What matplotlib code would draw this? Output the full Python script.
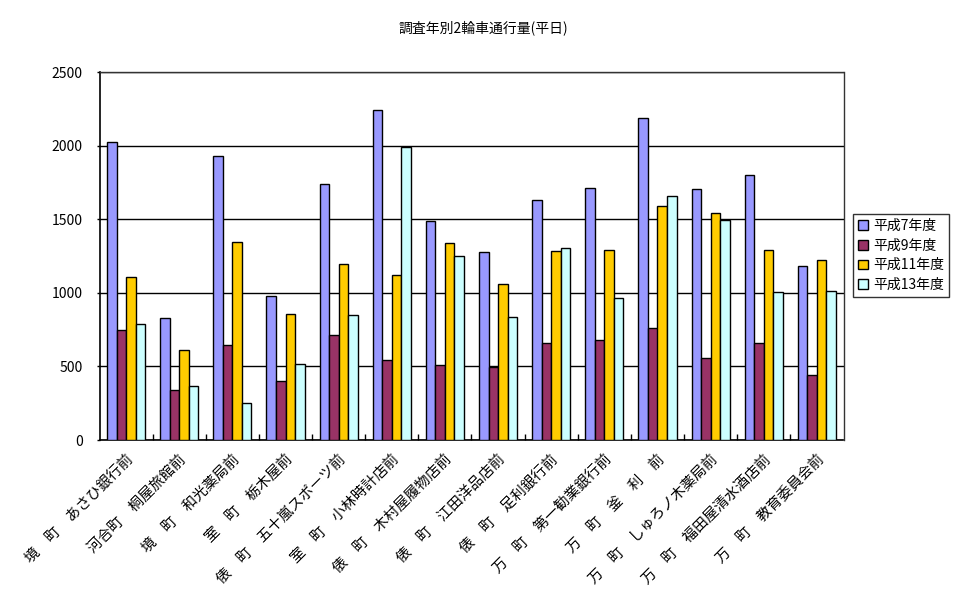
import matplotlib
matplotlib.use("Agg")
import matplotlib.pyplot as plt
import numpy as np

plt.rcParams['font.family'] = ['Noto Sans CJK JP', 'DejaVu Sans']

# survey points (x axis)
locations = [
    "境　町　あさひ銀行前",
    "河合町　桐屋旅館前",
    "境　町　和光薬局前",
    "室　町　栃木屋前",
    "俵　町　五十嵐スポーツ前",
    "室　町　小林時計店前",
    "俵　町　木村屋履物店前",
    "俵　町　江田洋品店前",
    "俵　町　足利銀行前",
    "万　町　第一勧業銀行前",
    "万　町　釜　利　前",
    "万　町　しゅろノ木薬局前",
    "万　町　福田屋清水酒店前",
    "万　町　教育委員会前",
]

series_names = ["平成7年度", "平成9年度", "平成11年度", "平成13年度"]
h7 = [2024, 827, 1929, 977, 1738, 2242, 1487, 1276, 1630, 1711, 2187, 1704, 1800, 1181]
h9 = [746, 338, 644, 399, 712, 542, 510, 496, 657, 678, 759, 555, 657, 442]
h11 = [1106, 610, 1344, 854, 1194, 1120, 1337, 1058, 1283, 1290, 1589, 1541, 1290, 1222]
h13 = [786, 365, 249, 514, 848, 1990, 1249, 834, 1303, 963, 1657, 1494, 1004, 1011]

colors = ['#9999FF', '#993366', '#FFCC00', '#CCFFFF']

fig = plt.figure(figsize=(9.66, 6.02), dpi=100)
ax = fig.add_axes([99.5 / 966, 162 / 602, 744 / 966, 368 / 602])

x = np.arange(len(locations))
w = 0.18
for i, (vals, name) in enumerate(zip([h7, h9, h11, h13], series_names)):
    ax.bar(x + (i - 1.5) * w, vals, width=w, color=colors[i],
           edgecolor='black', linewidth=1.0, label=name, zorder=3)

ax.set_xlim(-0.5, len(locations) - 0.5)
ax.set_ylim(0, 2500)
ax.set_yticks([0, 500, 1000, 1500, 2000, 2500])
ax.yaxis.grid(True, color='black', linewidth=1.0, zorder=0)

# category ticks sit between groups, labels centred on groups
ax.set_xticks(np.arange(1, len(locations)) - 0.5)
ax.set_xticklabels([])
ax.tick_params(axis='x', direction='in', length=4, width=1)
ax.set_xticks(x, minor=True)
ax.set_xticklabels(locations, minor=True, rotation=45, ha='right',
                   rotation_mode='anchor', fontsize=10.5)
ax.tick_params(axis='x', which='minor', length=0, pad=9)
ax.tick_params(axis='y', direction='out', length=2, width=1, pad=10, labelsize=10)

for side in ['left', 'bottom']:
    ax.spines[side].set_color('black')
    ax.spines[side].set_linewidth(1.2)
for side in ['top', 'right']:
    ax.spines[side].set_color('#333333')
    ax.spines[side].set_linewidth(1.0)

fig.text(0.5, 1 - 28 / 602, "調査年別2輪車通行量(平日)", ha='center', va='center', fontsize=10)

leg = ax.legend(loc='center left', bbox_to_anchor=(853 / 966, 1 - 255.5 / 602),
                bbox_transform=fig.transFigure, fontsize=10, frameon=True,
                fancybox=False, edgecolor='black', handlelength=0.7,
                handleheight=0.7, handletextpad=0.4, labelspacing=0.4,
                borderpad=0.35, borderaxespad=0)
leg.get_frame().set_linewidth(1.0)

fig.savefig("out.png", dpi=100)
